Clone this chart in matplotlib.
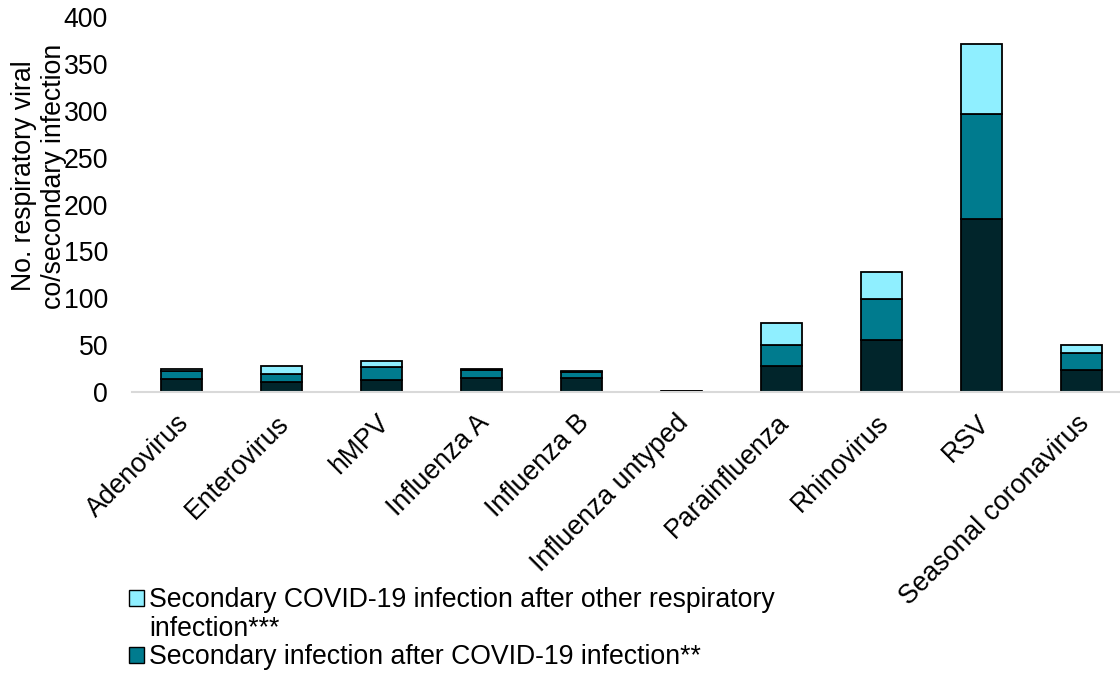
import numpy as np
import matplotlib.pyplot as plt
import matplotlib.transforms as mtransforms
from matplotlib.patches import Patch

plt.rcParams['font.family'] = ['Liberation Sans', 'DejaVu Sans']

# counts per virus, split by type of infection
viruses = ["Adenovirus", "Enterovirus", "hMPV", "Influenza A", "Influenza B",
           "Influenza untyped", "Parainfluenza", "Rhinovirus", "RSV",
           "Seasonal coronavirus"]
co_infection = [14, 11, 13, 15, 15, 1, 28, 56, 185, 24]
after_covid = [8, 8, 14, 9, 6, 0, 22, 43, 112, 18]
covid_after_other = [3, 9, 6, 1, 1, 0, 24, 29, 74, 8]

dark = "#01252b"
teal = "#007b8e"
light = "#8fefff"
fs = 19.2

fig = plt.figure(figsize=(11.2, 6.73), dpi=100)
ax = fig.add_axes([0.1176, 0.4175, 0.8824, 0.5572])

x = np.arange(len(viruses))
w = 0.41
bottom2 = np.array(co_infection)
bottom3 = bottom2 + np.array(after_covid)
ax.bar(x, co_infection, w, color=dark, edgecolor="black", linewidth=1.3)
ax.bar(x, after_covid, w, bottom=bottom2, color=teal, edgecolor="black", linewidth=1.3)
ax.bar(x, covid_after_other, w, bottom=bottom3, color=light, edgecolor="black", linewidth=1.3)

ax.set_xlim(-0.5, 9.38)
ax.set_ylim(0, 400)
ax.set_yticks(range(0, 401, 50))
ax.set_xticks(x)
ax.set_xticklabels(viruses, rotation=45, ha="right", va="top", rotation_mode="anchor")
ax.tick_params(axis="both", length=0, labelsize=fs)
ax.tick_params(axis="y", pad=17)
ax.tick_params(axis="x", pad=13)

# nudge the slanted labels a little to the left
shift = mtransforms.ScaledTranslation(-6 / 100, 0, fig.dpi_scale_trans)
for lbl in ax.get_xticklabels():
    lbl.set_transform(lbl.get_transform() + shift)

for side in ["top", "right", "left"]:
    ax.spines[side].set_visible(False)
ax.spines["bottom"].set_color("#d9d9d9")
ax.spines["bottom"].set_linewidth(1.5)

fig.text(39 / 1120, 1 - 176 / 673, "No. respiratory viral\nco/secondary infection",
         rotation=90, ha="center", va="center", multialignment="center",
         fontsize=fs, linespacing=1.22)

handles = [Patch(facecolor=light, edgecolor="black", linewidth=1.0),
           Patch(facecolor="none", edgecolor="none"),
           Patch(facecolor=teal, edgecolor="black", linewidth=1.0)]
labels = ["Secondary COVID-19 infection after other respiratory",
          "infection***",
          "Secondary infection after COVID-19 infection**"]
fig.legend(handles, labels, loc="upper left", bbox_to_anchor=(129 / 1120, 1 - 587 / 673),
           frameon=False, fontsize=fs, handlelength=0.55, handleheight=0.55,
           handletextpad=0.2, labelspacing=0.1, borderpad=0, borderaxespad=0)

fig.savefig("out.png", dpi=100)
